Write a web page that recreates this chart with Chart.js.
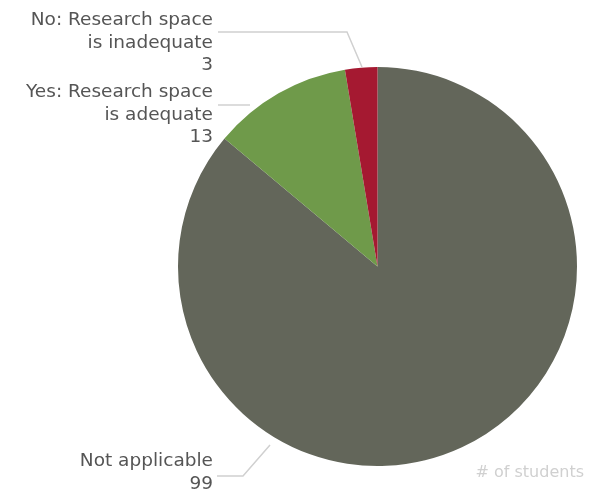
<!DOCTYPE html>
<html>
<head>
<meta charset="utf-8">
<script src="https://cdn.jsdelivr.net/npm/chart.js"></script>
<style>
  body { margin: 0; background: #fff; }
  #chartContainer { width: 599px; height: 491px; }
</style>
</head>
<body>
<div id="chartContainer"><canvas id="studentsChart" width="599" height="491"></canvas></div>
<script>
const categories = [
  "Not applicable",
  "Yes: Research space is adequate",
  "No: Research space is inadequate",
];
const studentCounts = [99, 13, 3];
const sliceColors = ["#63665a", "#6f9a4a", "#a51931"];

// wrapped label text, as shown beside the pie
const labelLines = [
  ["Not applicable"],
  ["Yes: Research space", "is adequate"],
  ["No: Research space", "is inadequate"],
];

// callout placement: text right edge / first baseline, leader line path
const callouts = [
  { textX: 213, textY: 466, line: [[270, 445], [243, 476], [217, 476]] },
  { textX: 213, textY: 97, line: [[250, 105], [218, 105]] },
  { textX: 213, textY: 25, line: [[362, 67], [347, 32], [218, 32]] },
];

const calloutPlugin = {
  id: "callouts",
  afterDraw(chart) {
    const ctx = chart.ctx;
    const values = chart.data.datasets[0].data;
    ctx.save();
    callouts.forEach(function (c, i) {
      ctx.strokeStyle = "#d0d0d0";
      ctx.lineWidth = 1.5;
      ctx.beginPath();
      c.line.forEach(function (p, j) {
        if (j === 0) ctx.moveTo(p[0], p[1]);
        else ctx.lineTo(p[0], p[1]);
      });
      ctx.stroke();

      ctx.fillStyle = "#555555";
      ctx.font = "18.5px 'DejaVu Sans'";
      ctx.textAlign = "right";
      ctx.textBaseline = "alphabetic";
      const lines = labelLines[i].concat([String(values[i])]);
      lines.forEach(function (txt, k) {
        ctx.fillText(txt, c.textX, c.textY + k * 22.5);
      });
    });

    ctx.fillStyle = "#d0d0d0";
    ctx.font = "16px 'DejaVu Sans'";
    ctx.textAlign = "right";
    ctx.fillText("# of students", 584, 477);
    ctx.restore();
  },
};

const ctxStudents = document.getElementById("studentsChart").getContext("2d");
const studentsChart = new Chart(ctxStudents, {
  type: "pie",
  data: {
    labels: categories,
    datasets: [
      {
        label: "# of students",
        data: studentCounts,
        backgroundColor: sliceColors,
        borderWidth: 0,
      },
    ],
  },
  options: {
    responsive: false,
    animation: false,
    layout: {
      padding: { left: 178, right: 22, top: 67, bottom: 25 },
    },
    plugins: {
      legend: { display: false },
      tooltip: { enabled: false },
    },
  },
  plugins: [calloutPlugin],
});
</script>
</body>
</html>
